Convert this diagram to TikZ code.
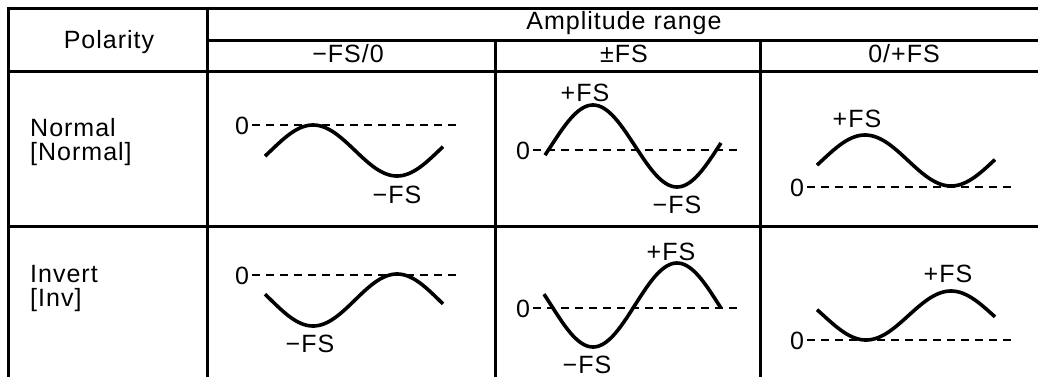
\documentclass[tikz,border=0pt]{standalone}
\usepackage{fontspec}
\setmainfont{Liberation Sans}[LetterSpace=4]
\begin{document}
\begin{tikzpicture}[x=1pt,y=-1pt,
  grid/.style={line width=3pt},
  wave/.style={line width=3.6pt},
  zline/.style={line width=2pt, dash pattern=on 8pt off 6pt},
  lbl/.style={inner sep=0pt, anchor=base, font=\fontsize{25}{22}\selectfont},
  lleft/.style={inner sep=0pt, anchor=base west, font=\fontsize{25}{22}\selectfont},
  ]
\useasboundingbox (0,0) rectangle (1038,376);
% table grid
\draw[grid] (8,8) -- (1045,8);
\draw[grid] (207,40) -- (1045,40);
\draw[grid] (8,71) -- (1045,71);
\draw[grid] (8,226) -- (1045,226);
\draw[grid] (8,6.5) -- (8,385);
\draw[grid] (207,6.5) -- (207,385);
\draw[grid] (495,40) -- (495,385);
\draw[grid] (760,40) -- (760,385);
% headers
\node[lbl] (pol) at (109,48) {Polarity};
\node[lbl] (amp) at (624,29) {Amplitude range};
\node[lbl] (h1) at (348,62) {−FS/0};
\node[lbl] (h2) at (624,62) {±FS};
\node[lbl] (h3) at (904,62) {0/+FS};
\node[lleft] (nor) at (30,136) {Normal};
\node[lleft] (norb) at (30,160) {[Normal]};
\node[lleft] (inv) at (30,282) {Invert};
\node[lleft] (invb) at (30,306) {[Inv]};
% Normal row
\node[lbl] (nz1) at (242,134) {0};
\coordinate (nz1e) at (460,125);
\draw[zline] ([xshift=3pt]nz1.east) -- (nz1.east -| nz1e);
\draw[wave] plot[domain=265:443, samples=80] (\x, {150.5-25.5*cos((\x-313)/84*180)});
\node[lbl] (nm1) at (397,203) {−FS};

\node[lbl] (np2) at (585,101) {+FS};
\node[lbl] (nz2) at (523,159) {0};
\coordinate (nz2e) at (740,151);
\draw[zline] ([xshift=3pt]nz2.east) -- (nz2.east -| nz2e);
\draw[wave] plot[domain=545:721, samples=80] (\x, {146-41*cos((\x-593)/84*180)});
\node[lbl] (nm2) at (677,213) {−FS};

\node[lbl] (np3) at (857,127) {+FS};
\node[lbl] (nz3) at (797,196) {0};
\coordinate (nz3e) at (1013,187);
\draw[zline] ([xshift=3pt]nz3.east) -- (nz3.east -| nz3e);
\draw[wave] plot[domain=817:995, samples=80] (\x, {160.5-25.5*cos((\x-865)/86*180)});
% Invert row
\node[lbl] (iz1) at (242,284) {0};
\coordinate (iz1e) at (460,275);
\draw[zline] ([xshift=3pt]iz1.east) -- (iz1.east -| iz1e);
\draw[wave] plot[domain=265:443, samples=80] (\x, {300+26*cos((\x-313)/84*180)});
\node[lbl] (im1) at (310,352) {−FS};

\node[lbl] (ip2) at (671,260) {+FS};
\node[lbl] (iz2) at (523,317) {0};
\coordinate (iz2e) at (740,309);
\draw[zline] ([xshift=3pt]iz2.east) -- (iz2.east -| iz2e);
\draw[wave] plot[domain=544:721, samples=80] (\x, {305+42*cos((\x-593)/84*180)});
\node[lbl] (im2) at (587,373) {−FS};

\node[lbl] (ip3) at (948,282) {+FS};
\node[lbl] (iz3) at (797,349) {0};
\coordinate (iz3e) at (1013,341);
\draw[zline] ([xshift=3pt]iz3.east) -- (iz3.east -| iz3e);
\draw[wave] plot[domain=817:995, samples=80] (\x, {315.5+24.5*cos((\x-866)/85*180)});
\end{tikzpicture}
\end{document}
